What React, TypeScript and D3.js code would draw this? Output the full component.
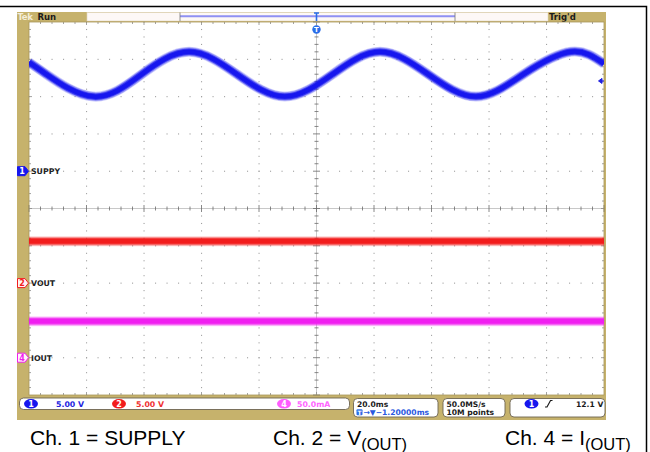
import * as d3 from "d3";
import { useEffect, useRef } from "react";

// ch1 (supply) trace: time in ms, volts
const supplyTime = [-100, -94, -77.4, -60.8, -44.3, -27.7, -11, 5.6, 22.1, 38.8, 55.5, 72, 88.5, 100];
const supplyVolts = [14.6, 13.0, 10.0, 13.0, 16.0, 13.0, 10.0, 13.0, 16.0, 13.0, 10.0, 13.0, 16.0, 14.4];
// ch2 (vout) and ch4 (iout) are flat
const voutTime = [-100, 100];
const voutVolts = [5.6, 5.6];
const ioutTime = [-100, 100];
const ioutMilliAmps = [49, 49];

const channelNumbers = ["1", "2", "4"];
const channelNames = ["SUPPY", "VOUT", "IOUT"];
const channelScales = ["5.00 V", "5.00 V", "50.0mA"];
const channelPerDiv = [5, 5, 50];
const channelOffsets = [1, -2, -4]; // ground marker, divisions from center
const channelColors = ["#1616ee", "#f21c1c", "#f01ef0"];
const channelTextColors = ["#2424e0", "#f03030", "#ff66ff"];

const timebase = ["20.0ms", "\u2192\u25BC\u22121.20000ms"];
const acquisition = ["50.0MS/s", "10M points"];
const triggerSource = "1";
const triggerLevel = 12.1;
const triggerText = "12.1 V";
const headerLeft = ["Tek", "Run"];
const headerRight = "Trig'd";

const captionMain = ["Ch. 1 = SUPPLY", "Ch. 2 = V", "Ch. 4 = I"];
const captionSub = ["", "(OUT)", "(OUT)"];
const captionX = [30, 273, 505];

const App = () => {
  const ref = useRef(null);

  useEffect(() => {
    var width = 650;
    var height = 452;
    var left = 29,
      right = 604,
      top = 22,
      bottom = 395;
    var tan = "#c6b26c";
    var scopeFont = "DejaVu Sans, Verdana, sans-serif";

    var svg = d3
      .select(ref.current)
      .append("svg")
      .attr("width", width)
      .attr("height", height)
      .style("display", "block")
      .style("background", "white");

    var x = d3.scaleLinear().domain([-100, 100]).range([left, right]);
    var yDiv = d3.scaleLinear().domain([-5, 5]).range([bottom, top]);
    var chY = (ch: number, v: number) =>
      yDiv(channelOffsets[ch] + v / channelPerDiv[ch]);

    var divW = (right - left) / 10;
    var divH = (bottom - top) / 10;

    // outer frame of the figure
    svg
      .append("path")
      .attr("d", "M0,6.5H646.5V452")
      .attr("fill", "none")
      .attr("stroke", "black")
      .attr("stroke-width", 1.5);

    // scope bezel
    svg.append("rect").attr("x", 17).attr("y", 12).attr("width", 589).attr("height", 408).attr("fill", tan);
    svg
      .append("rect")
      .attr("x", left)
      .attr("y", top)
      .attr("width", right - left)
      .attr("height", bottom - top)
      .attr("fill", "white");

    // header: record view
    svg
      .append("rect")
      .attr("x", 87)
      .attr("y", 12.5)
      .attr("width", 461)
      .attr("height", 8.5)
      .attr("fill", "#fdf8f6")
      .attr("stroke", "#e2d8c0")
      .attr("stroke-width", 0.6);
    svg
      .append("line")
      .attr("x1", 180)
      .attr("x2", 455)
      .attr("y1", 16.2)
      .attr("y2", 16.2)
      .attr("stroke", "#8f90f2")
      .attr("stroke-width", 2);
    svg
      .selectAll("recEnds")
      .data([180, 455])
      .enter()
      .append("line")
      .attr("x1", (d) => d)
      .attr("x2", (d) => d)
      .attr("y1", 12.5)
      .attr("y2", 21)
      .attr("stroke", "#777")
      .attr("stroke-width", 0.8);

    svg
      .append("text")
      .attr("x", 17.5)
      .attr("y", 20)
      .attr("font-family", scopeFont)
      .attr("font-size", 8.5)
      .attr("font-weight", "bold")
      .attr("letter-spacing", -0.4)
      .attr("fill", "#f4edd8")
      .text(headerLeft[0]);
    svg
      .append("text")
      .attr("x", 37.5)
      .attr("y", 20)
      .attr("font-family", scopeFont)
      .attr("font-size", 8.5)
      .attr("font-weight", "bold")
      .attr("fill", "#1a1a1a")
      .text(headerLeft[1]);
    svg
      .append("text")
      .attr("x", 549)
      .attr("y", 20)
      .attr("font-family", scopeFont)
      .attr("font-size", 8.5)
      .attr("font-weight", "bold")
      .attr("fill", "#1a1a1a")
      .text(headerRight);

    // graticule: dotted division lines
    var g = svg.append("g");
    var dotsX: [number, number][] = [];
    d3.range(1, 10).forEach((i) => {
      if (i === 5) return;
      var yy = top + i * divH;
      d3.range(0, 51).forEach((k) => dotsX.push([left + (k * divW) / 5, yy]));
      var xx = left + i * divW;
      d3.range(0, 51).forEach((k) => dotsX.push([xx, top + (k * divH) / 5]));
    });
    g.selectAll("dots")
      .data(dotsX)
      .enter()
      .append("rect")
      .attr("x", (d) => d[0] - 0.5)
      .attr("y", (d) => d[1] - 0.5)
      .attr("width", 1.1)
      .attr("height", 1.1)
      .attr("fill", "#a0a0a0");

    // center cross
    var cx = left + 5 * divW;
    var cy = top + 5 * divH;
    g.append("line").attr("x1", left).attr("x2", right).attr("y1", cy).attr("y2", cy).attr("stroke", "#c8c8c8");
    g.append("line").attr("x1", cx).attr("x2", cx).attr("y1", top).attr("y2", bottom).attr("stroke", "#c8c8c8");
    g.selectAll("cTicksX")
      .data(d3.range(0, 51))
      .enter()
      .append("line")
      .attr("x1", (k) => left + (k * divW) / 5)
      .attr("x2", (k) => left + (k * divW) / 5)
      .attr("y1", (k) => cy - (k % 5 === 0 ? 3.5 : 2))
      .attr("y2", (k) => cy + (k % 5 === 0 ? 3.5 : 2))
      .attr("stroke", "#6a6a6a")
      .attr("stroke-width", 0.8);
    g.selectAll("cTicksY")
      .data(d3.range(0, 51))
      .enter()
      .append("line")
      .attr("y1", (k) => top + (k * divH) / 5)
      .attr("y2", (k) => top + (k * divH) / 5)
      .attr("x1", (k) => cx - (k % 5 === 0 ? 3.5 : 2))
      .attr("x2", (k) => cx + (k % 5 === 0 ? 3.5 : 2))
      .attr("stroke", "#6a6a6a")
      .attr("stroke-width", 0.8);

    // edge ticks
    d3.range(1, 50).forEach((k) => {
      var xx = left + (k * divW) / 5;
      var yy = top + (k * divH) / 5;
      var len = k % 5 === 0 ? 3 : 2;
      g.append("line").attr("x1", xx).attr("x2", xx).attr("y1", top).attr("y2", top + len).attr("stroke", "#8a8a8a").attr("stroke-width", 0.8);
      g.append("line").attr("x1", xx).attr("x2", xx).attr("y1", bottom - len).attr("y2", bottom).attr("stroke", "#8a8a8a").attr("stroke-width", 0.8);
      g.append("line").attr("y1", yy).attr("y2", yy).attr("x1", left).attr("x2", left + len).attr("stroke", "#8a8a8a").attr("stroke-width", 0.8);
      g.append("line").attr("y1", yy).attr("y2", yy).attr("x1", right - len).attr("x2", right).attr("stroke", "#8a8a8a").attr("stroke-width", 0.8);
    });
    g.append("rect")
      .attr("x", left)
      .attr("y", top)
      .attr("width", right - left)
      .attr("height", bottom - top)
      .attr("fill", "none")
      .attr("stroke", "#a8965a")
      .attr("stroke-width", 0.8);

    // traces
    svg
      .append("clipPath")
      .attr("id", "scr")
      .append("rect")
      .attr("x", left)
      .attr("y", top)
      .attr("width", right - left)
      .attr("height", bottom - top);
    var traces = svg.append("g").attr("clip-path", "url(#scr)");

    var series = [
      { ch: 0, t: supplyTime, v: supplyVolts },
      { ch: 1, t: voutTime, v: voutVolts },
      { ch: 2, t: ioutTime, v: ioutMilliAmps },
    ];
    series.forEach((s) => {
      var pts = s.t.map((t, i) => [t, s.v[i]] as [number, number]);
      var line = d3
        .line<[number, number]>()
        .x((d) => x(d[0]))
        .y((d) => chY(s.ch, d[1]))
        .curve(d3.curveNatural);
      [
        [10, 0.2],
        [8.5, 0.35],
        [6.5, 0.7],
        [4.5, 1],
      ].forEach(([w, o]) => {
        traces
          .append("path")
          .attr("d", line(pts))
          .attr("fill", "none")
          .attr("stroke", channelColors[s.ch])
          .attr("stroke-width", w)
          .attr("stroke-opacity", o);
      });
    });

    // channel ground markers + labels
    channelNumbers.forEach((n, i) => {
      var yy = chY(i, 0);
      var filled = i === 0;
      svg
        .append("path")
        .attr("d", `M17.5,${yy - 4.5}H25L28.5,${yy}L25,${yy + 4.5}H17.5Z`)
        .attr("fill", filled ? channelColors[i] : "#fff4f6")
        .attr("stroke", channelColors[i])
        .attr("stroke-width", 1);
      svg
        .append("text")
        .attr("x", 22)
        .attr("y", yy + 3)
        .attr("text-anchor", "middle")
        .attr("font-family", scopeFont)
        .attr("font-size", 8)
        .attr("font-weight", "bold")
        .attr("fill", filled ? "white" : channelColors[i])
        .text(n);
      svg
        .append("text")
        .attr("x", 31)
        .attr("y", yy + 3)
        .attr("font-family", scopeFont)
        .attr("font-size", 7.8)
        .attr("font-weight", "bold")
        .attr("fill", "#222")
        .text(channelNames[i]);
    });

    // trigger position marker
    svg
      .append("path")
      .attr("d", `M${cx - 2.5},13H${cx + 2.5}M${cx},13V21`)
      .attr("stroke", "#2a6ee8")
      .attr("stroke-width", 1.6)
      .attr("fill", "none");
    svg.append("circle").attr("cx", cx).attr("cy", 29.5).attr("r", 4.2).attr("fill", "#2a6ee8");
    svg
      .append("text")
      .attr("x", cx)
      .attr("y", 32.3)
      .attr("text-anchor", "middle")
      .attr("font-family", scopeFont)
      .attr("font-size", 7)
      .attr("font-weight", "bold")
      .attr("fill", "white")
      .text("T");

    // trigger level arrow
    var ty = chY(0, triggerLevel);
    svg
      .append("path")
      .attr("d", `M598.5,${ty}L602,${ty - 2.5}V${ty + 2.5}Z M601,${ty}H604`)
      .attr("fill", "#2020e0")
      .attr("stroke", "#2020e0")
      .attr("stroke-width", 1);

    // status bar
    var box = (bx: number, by: number, bw: number, bh: number) =>
      svg
        .append("rect")
        .attr("x", bx)
        .attr("y", by)
        .attr("width", bw)
        .attr("height", bh)
        .attr("rx", 4)
        .attr("fill", "white")
        .attr("stroke", "#6e6450")
        .attr("stroke-width", 0.9);
    box(19.5, 398, 330, 11.5);
    box(353.5, 398.5, 84.5, 18.5);
    box(443, 398.5, 62, 18.5);
    box(510, 398.5, 95, 18.5);

    var badge = (bx: number, by: number, color: string, n: string) => {
      svg.append("ellipse").attr("cx", bx).attr("cy", by).attr("rx", 7).attr("ry", 4.8).attr("fill", color);
      svg
        .append("text")
        .attr("x", bx)
        .attr("y", by + 3)
        .attr("text-anchor", "middle")
        .attr("font-family", scopeFont)
        .attr("font-size", 8)
        .attr("font-weight", "bold")
        .attr("fill", "white")
        .text(n);
    };
    var scaleX = [31, 119, 284];
    var scaleTextX = [56, 136, 297];
    channelNumbers.forEach((n, i) => {
      badge(scaleX[i], 403.8, i === 2 ? "#ff5cff" : channelColors[i], n);
      svg
        .append("text")
        .attr("x", scaleTextX[i])
        .attr("y", 407)
        .attr("font-family", scopeFont)
        .attr("font-size", 7.8)
        .attr("font-weight", "bold")
        .attr("fill", channelTextColors[i])
        .text(channelScales[i]);
    });

    var statusText = (tx: number, ty2: number, s: string, c: string) =>
      svg
        .append("text")
        .attr("x", tx)
        .attr("y", ty2)
        .attr("font-family", scopeFont)
        .attr("font-size", 7.6)
        .attr("font-weight", "bold")
        .attr("fill", c)
        .text(s);
    statusText(357, 406.5, timebase[0], "#1a1a1a");
    svg.append("rect").attr("x", 356.5).attr("y", 409.3).attr("width", 6).attr("height", 6).attr("rx", 1).attr("fill", "#2a6ee8");
    svg
      .append("text")
      .attr("x", 359.5)
      .attr("y", 414.6)
      .attr("text-anchor", "middle")
      .attr("font-family", scopeFont)
      .attr("font-size", 6)
      .attr("font-weight", "bold")
      .attr("fill", "white")
      .text("T");
    statusText(363.5, 415, timebase[1], "#2a58e0");
    statusText(446.5, 406.5, acquisition[0], "#1a1a1a");
    statusText(446.5, 415, acquisition[1], "#1a1a1a");

    badge(531.5, 403.8, channelColors[0], triggerSource);
    svg
      .append("path")
      .attr("d", "M545,407H547L550.5,400.5H552.5")
      .attr("fill", "none")
      .attr("stroke", "#1a1a1a")
      .attr("stroke-width", 1.2);
    statusText(576, 406.5, triggerText, "#1a1a1a");

    // caption under the screenshot
    captionMain.forEach((c, i) => {
      var t = svg
        .append("text")
        .attr("x", captionX[i])
        .attr("y", 444.5)
        .attr("font-family", "Liberation Sans, Arial, sans-serif")
        .attr("font-size", 21)
        .attr("fill", "black")
        .text(c);
      if (captionSub[i]) {
        t.append("tspan").attr("font-size", 16.5).attr("dy", 5).text(captionSub[i]);
      }
    });

    return function () {
      svg.remove();
    };
  }, []);

  return <div ref={ref} style={{ position: "absolute", left: 0, top: 0 }} />;
};

export default App;
